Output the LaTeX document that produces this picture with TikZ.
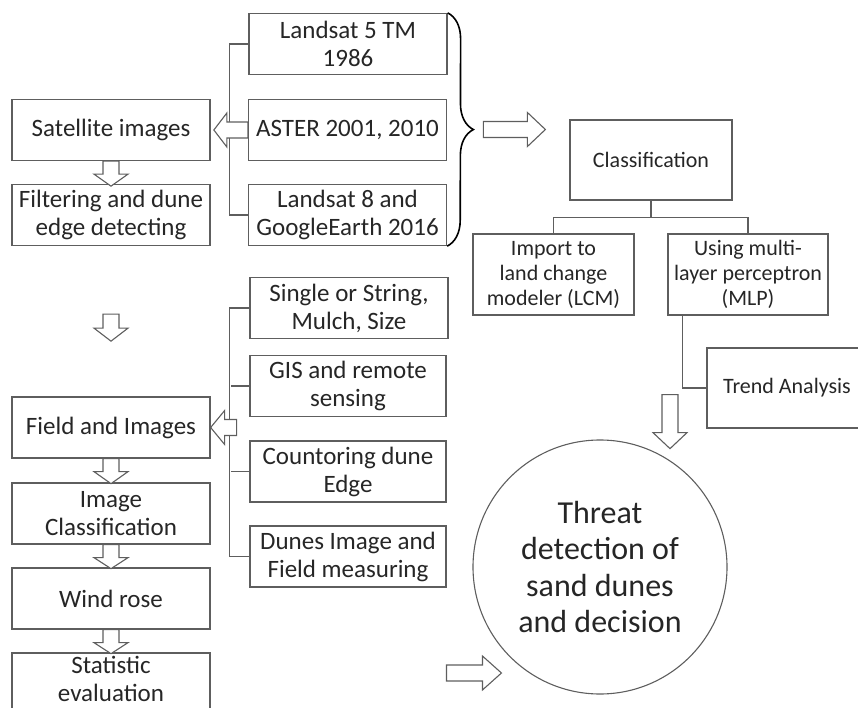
\documentclass[tikz,border=0pt]{standalone}
\usepackage{fontspec}
\setmainfont{Carlito}
\usetikzlibrary{positioning, calc, decorations.pathreplacing}

\definecolor{linegray}{HTML}{5E5E5E}
\definecolor{textgray}{HTML}{262626}

\tikzset{
  box/.style={draw=linegray, line width=1.3pt, minimum width=198pt, minimum height=61pt,
    align=center, inner sep=1pt, text=textgray, font=\fontsize{25}{28}\selectfont},
  smallbox/.style={box, font=\fontsize{22}{25}\selectfont},
  link/.style={draw=linegray, line width=1.3pt},
  hollow/.style={draw=linegray, line width=1.1pt, fill=white, line join=miter},
  % block arrow along local x: length / head length
  pics/blockarrow/.style args={#1/#2}{code={
    \draw[hollow] (0,-8) -- (#1-#2,-8) -- (#1-#2,-17) -- (#1,0)
      -- (#1-#2,17) -- (#1-#2,8) -- (0,8) -- cycle;
  }}
}

\begin{document}
\begin{tikzpicture}[x=1pt, y=-1pt]
  \useasboundingbox (0,0) rectangle (858,708);
  \clip (0,0) rectangle (858,708);

  % sources
  \node[box] (l5) at (348,44) {Landsat 5 TM\\1986};
  \node[box] (aster) at (347.5,130) {ASTER 2001, 2010};
  \node[box] (l8) at (347.5,215) {Landsat 8 and\\GoogleEarth 2016};
  % first column
  \node[box] (sat) at (111,130) {Satellite images};
  \node[box] (filt) at (111,215) {Filtering and dune\\edge detecting};
  \node[box] (field) at (111,427.5) {Field and Images};
  \node[box] (imgcls) at (111,513.5) {Image\\Classification};
  \node[box] (wind) at (111,598.5) {Wind rose};
  \node[box, text depth=9pt] (stat) at (111,683.5) {Statistic\\evaluation};
  % field inputs
  \node[box] (single) at (349,308) {Single or String,\\Mulch, Size};
  \node[box, minimum width=196pt] (gis) at (348,386) {GIS and remote\\sensing};
  \node[box, minimum width=196pt] (contour) at (348,471.5) {Countoring dune\\Edge};
  \node[box, minimum width=196pt] (dunes) at (348,556.5) {Dunes Image and\\Field measuring};
  % classification branch
  \node[smallbox, minimum width=162pt, minimum height=80pt] (cls) at (651,160) {Classification};
  \node[smallbox, minimum width=161pt, minimum height=81pt] (lcm) at (553.5,274.5) {Import to\\land change\\modeler (LCM)};
  \node[smallbox, minimum width=160pt, minimum height=81pt] (mlp) at (748,274.5) {Using multi-\\layer perceptron\\(MLP)};
  \node[smallbox, minimum width=160pt, minimum height=80pt] (trend) at (787,388) {Trend Analysis};
  % result
  \node[draw=linegray, line width=1.1pt, circle, minimum size=254pt, align=center, inner sep=0pt,
    text=textgray, font=\fontsize{32}{36.5}\selectfont] (threat) at (600,567)
    {Threat\\detection of\\sand dunes\\and decision};

  % tree lines
  \draw[link] (l5.west) -- ++(-19,0) |- (l8.west);
  \draw[link] (single.west) -- ++(-20,0) |- (dunes.west);
  \draw[link] (gis.west) -- ++(-18,0);
  \draw[link] (contour.west) -- ++(-18,0);
  \draw[link] (cls.south) -- ++(0,17) coordinate (split);
  \draw[link] (split) -| (lcm.north);
  \draw[link] (split) -| (mlp.north);
  \draw[link] ([xshift=15pt]mlp.south west) |- (trend.west);

  % brace over the sources
  \draw[line width=1.6pt, decorate, decoration={brace, amplitude=26pt}]
    (l5.north east) -- (l8.south east) coordinate[midway, xshift=36pt] (bracetip);

  % block arrows
  \pic[rotate=180] at (aster.west) {blockarrow=34/13};
  \pic[rotate=180] at ([xshift=26pt]field.east) {blockarrow=26/14};
  \pic[rotate=-90] at (sat.south) {blockarrow=25/12};
  \pic[rotate=-90] at ([yshift=-68pt]filt.south) {blockarrow=27/13};
  \pic[rotate=-90] at (field.south) {blockarrow=25/12};
  \pic[rotate=-90] at (imgcls.south) {blockarrow=24/11};
  \pic[rotate=-90] at (wind.south) {blockarrow=24/11};
  \pic at (bracetip) {blockarrow=62/18};
  \pic[rotate=-90] at ([xshift=-117pt, yshift=34pt]trend.south) {blockarrow=54/16};
  \pic at ([xshift=-26pt, yshift=-106pt]threat.west) {blockarrow=55/19};
\end{tikzpicture}
\end{document}
